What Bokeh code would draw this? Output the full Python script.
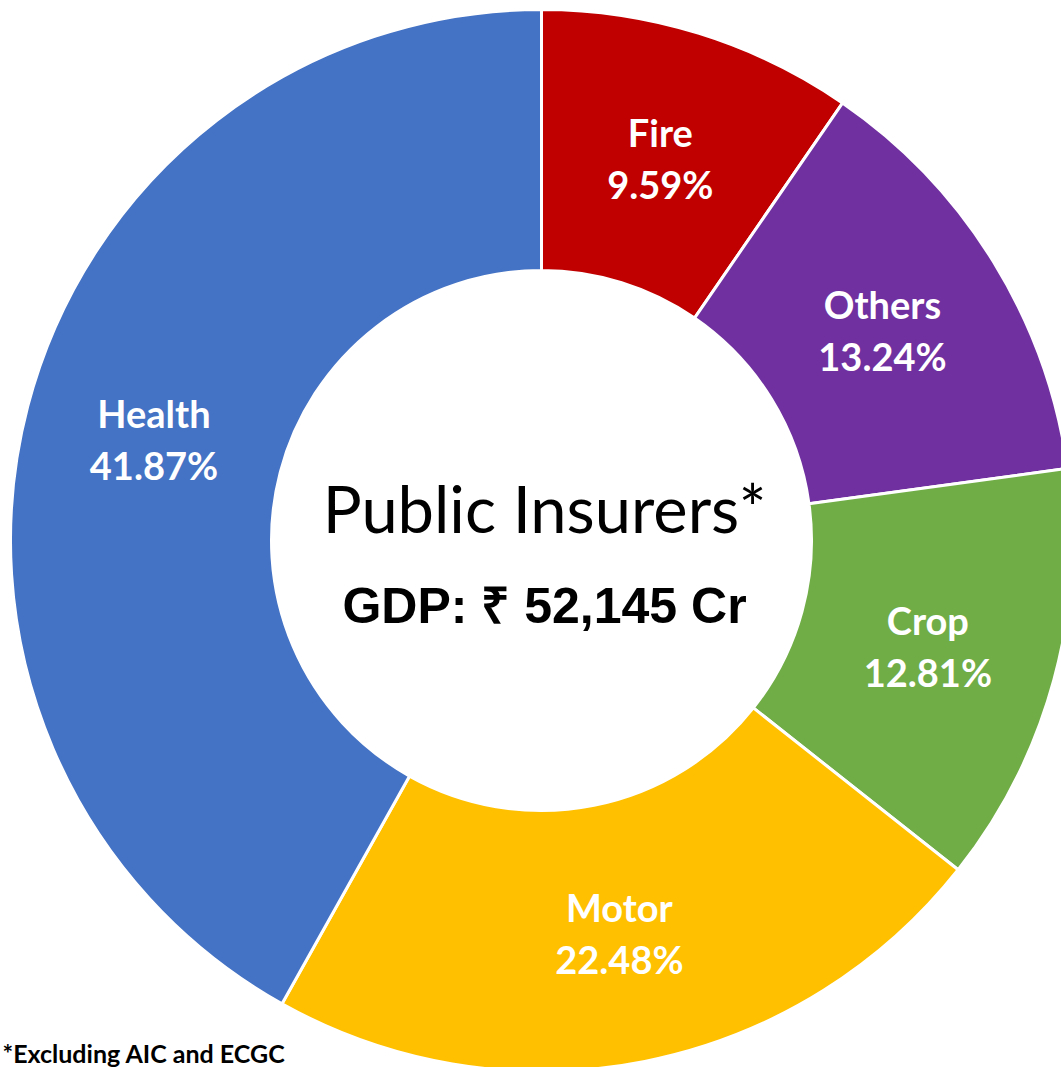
import numpy as np
from bokeh.plotting import figure
from bokeh.models import Range1d, ColumnDataSource
from bokeh.core.properties import value
from bokeh.embed import file_html
from bokeh.resources import INLINE

categories = ["Fire", "Others", "Crop", "Motor", "Health"]
shares = [9.59, 13.24, 12.81, 22.48, 41.87]
colors = ["#C00000", "#7030A0", "#70AD47", "#FFC000", "#4472C4"]
center_title = "Public Insurers*"
center_sub = "GDP: \u20b9 52,145 Cr"
footnote = "*Excluding AIC and ECGC"

W, H = 1061, 1067
p = figure(width=W, height=H, output_backend="svg", toolbar_location=None,
           x_range=Range1d(0, W), y_range=Range1d(0, H),
           min_border=0, min_border_left=0, min_border_right=0,
           min_border_top=0, min_border_bottom=0)
p.axis.visible = False
p.grid.visible = False
p.outline_line_color = None
p.background_fill_color = "white"
p.border_fill_color = "white"

cx, cy = 541, H - 540
r_out, r_in = 531, 270

vals = np.array(shares, dtype=float)
frac = vals / vals.sum()
cum = np.concatenate([[0], np.cumsum(frac)])
starts = np.pi / 2 - 2 * np.pi * cum[:-1]
ends = np.pi / 2 - 2 * np.pi * cum[1:]
mids = (starts + ends) / 2
r_lab = (r_out + r_in) / 2
lx = cx + r_lab * np.cos(mids)
ly = cy + r_lab * np.sin(mids)

src = ColumnDataSource(dict(start=starts, end=ends, color=colors,
                            name=categories, pct=[f"{v:.2f}%" for v in shares],
                            lx=lx, ly_top=ly + 26, ly_bot=ly - 26))

p.annular_wedge(x=cx, y=cy, inner_radius=r_in, outer_radius=r_out,
                start_angle="start", end_angle="end", direction="clock",
                fill_color="color", line_color="white", line_width=3, source=src)

for col in ["name", "pct"]:
    p.text(x="lx", y="ly_top" if col == "name" else "ly_bot", text=col, source=src,
           text_color="white", text_font=value("Lato"), text_font_style="bold",
           text_font_size="38px", text_align="center", text_baseline="middle")

p.text(x=[544], y=[H - 507], text=[center_title], text_font=value("Lato"),
       text_font_size="65px", text_color="black", text_align="center",
       text_baseline="middle")
p.text(x=[544], y=[H - 605], text=[center_sub], text_font=value("Liberation Sans"),
       text_font_style="bold", text_font_size="50px", text_color="black",
       text_align="center", text_baseline="middle")
p.text(x=[2], y=[H - 1052], text=[footnote], text_font=value("Lato"),
       text_font_style="bold", text_font_size="25px", text_color="black",
       text_align="left", text_baseline="middle")

open("out.html", "w").write(file_html(p, INLINE))
